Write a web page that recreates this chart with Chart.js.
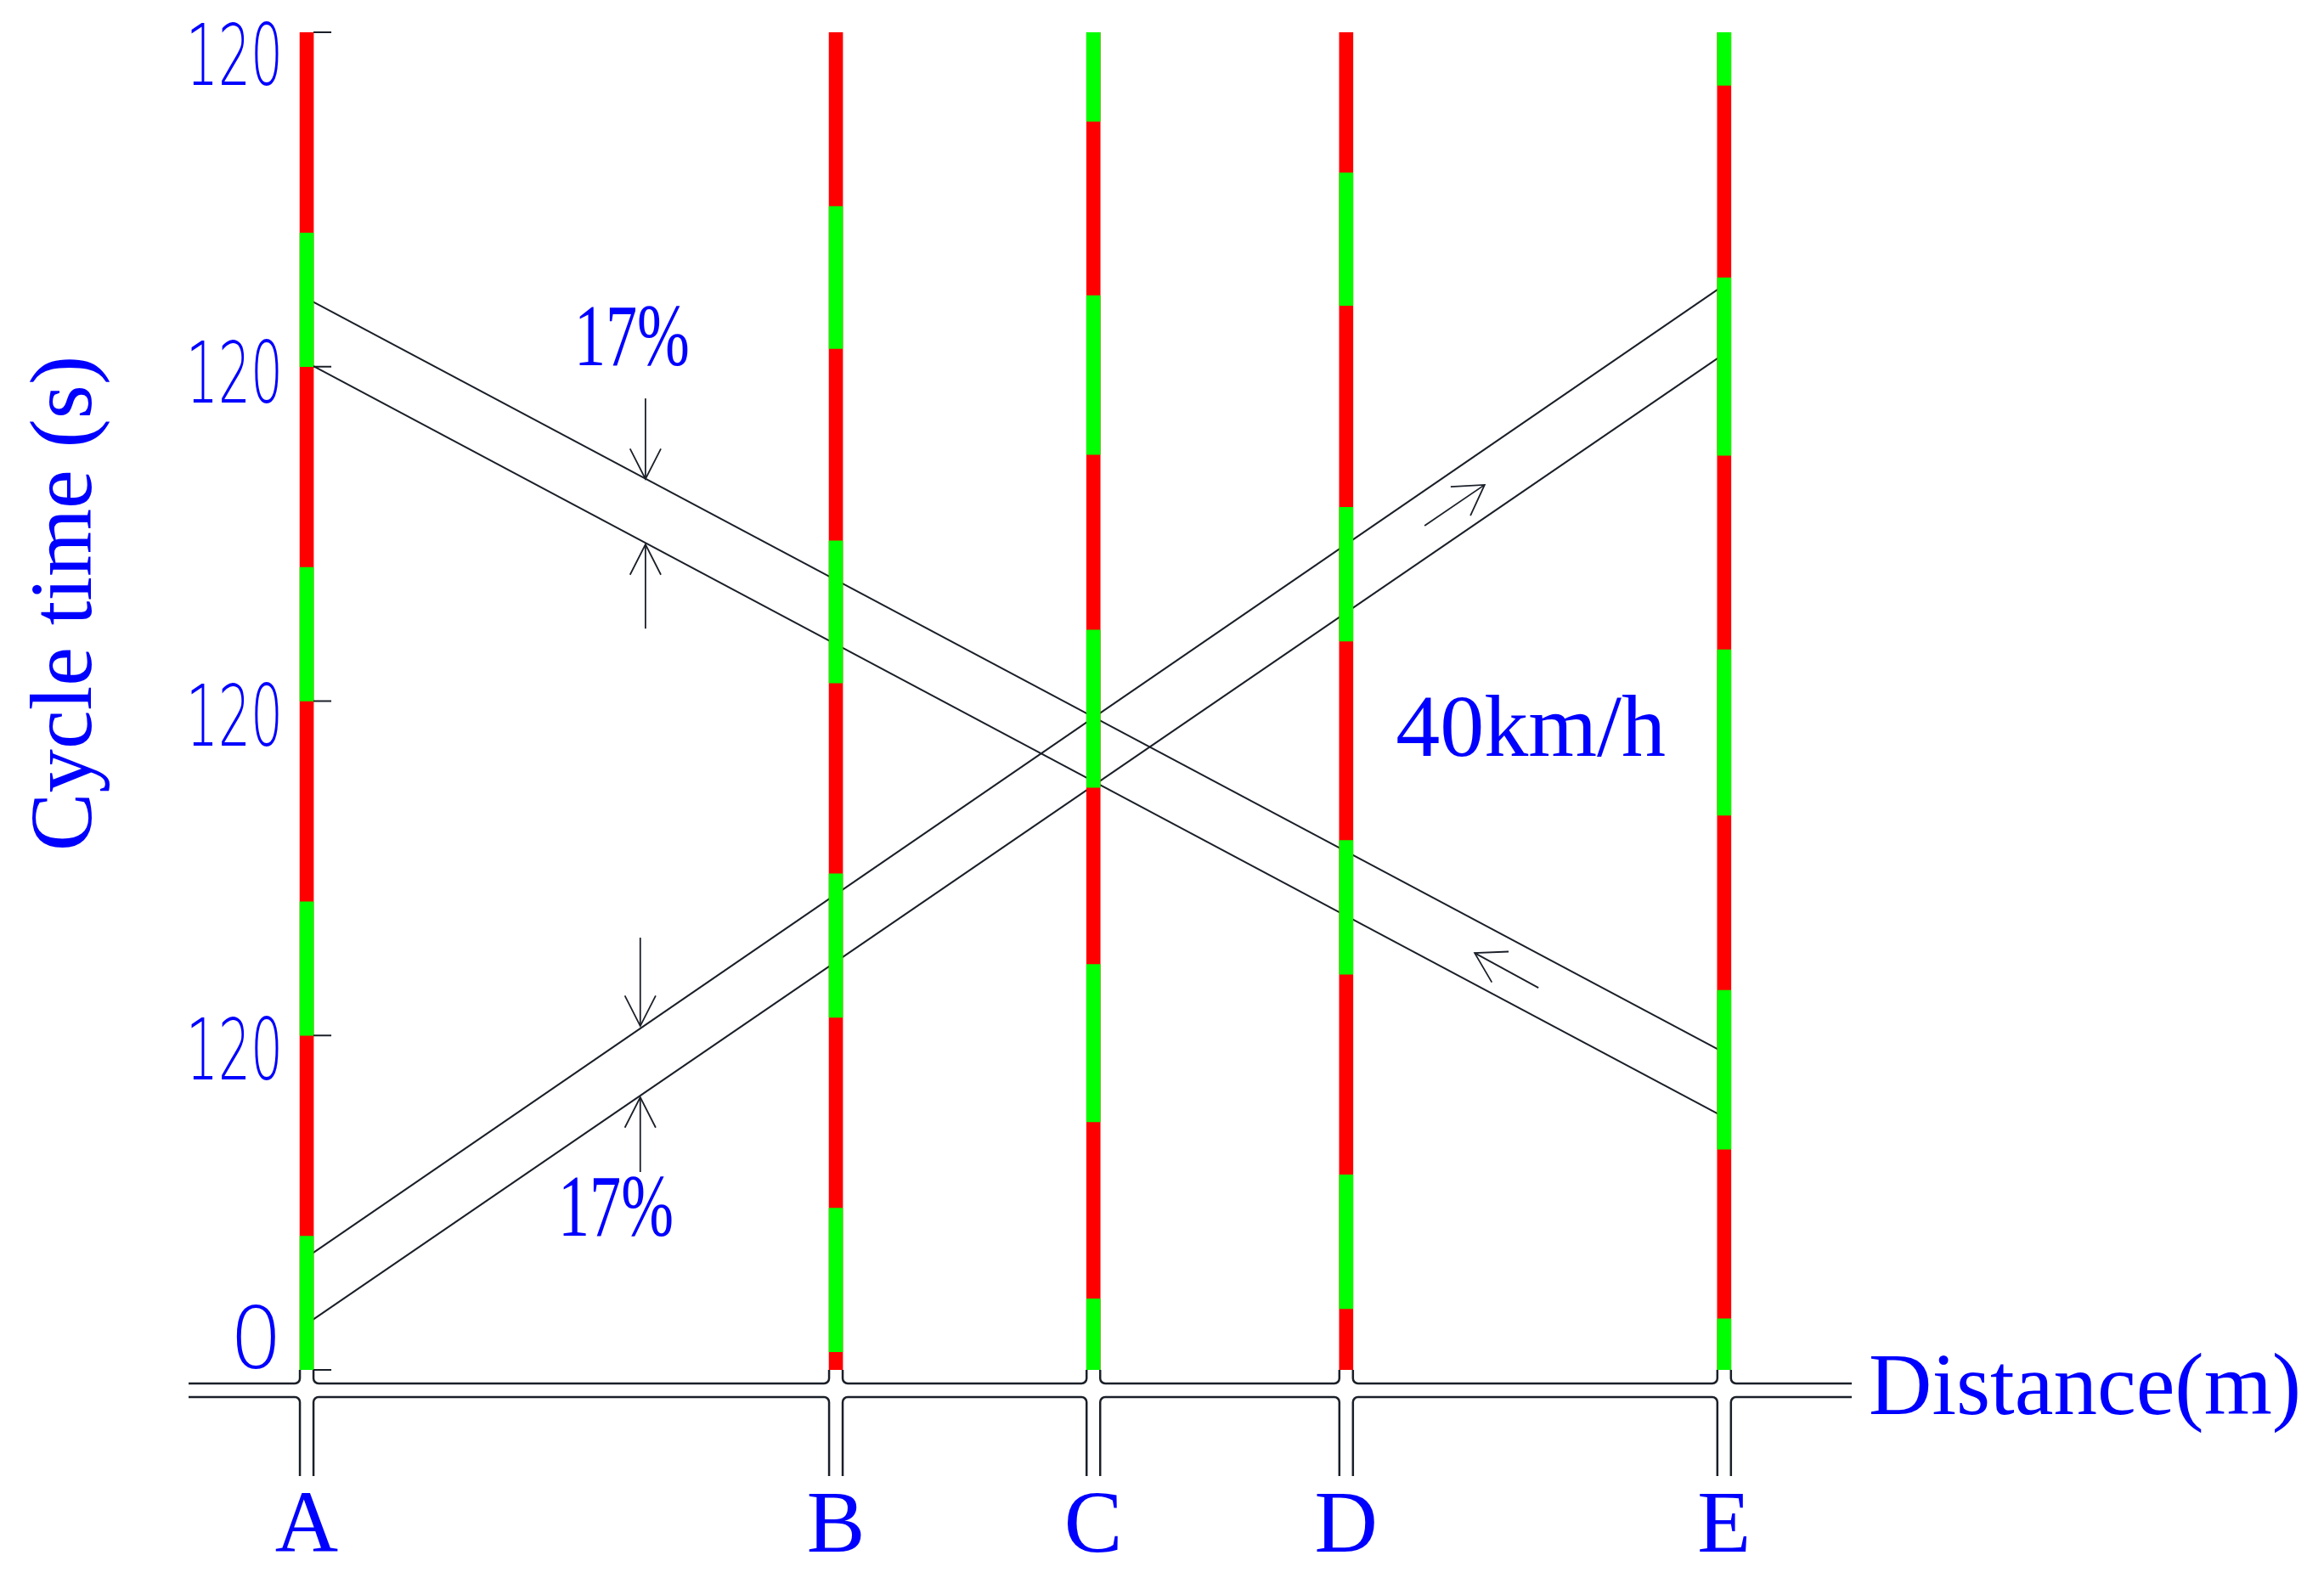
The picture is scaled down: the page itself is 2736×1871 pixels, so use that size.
<!DOCTYPE html>
<html>
<head>
<meta charset="utf-8">
<title>Time-space diagram</title>
<script src="https://cdn.jsdelivr.net/npm/chart.js@4.4.1/dist/chart.umd.min.js"></script>
<style>
  html, body { margin: 0; padding: 0; background: #fff; }
  canvas { display: block; }
</style>
</head>
<body>
<canvas id="chart" width="2736" height="1871"></canvas>
<script>
// intersections along the road (m)
const intersections = ["A", "B", "C", "D", "E"];
const positions = [0, 1120, 1665, 2200, 3000];

// time axis (s), 4 cycles of 120 s
const cycleEnd = 480;
const yTicks = [0, 120, 240, 360, 480];
const yTickLabels = ["0", "120", "120", "120", "120"];

// green phases [start, end] at each intersection, the rest is red
const greenA = [[0, 48], [120, 168], [240, 288], [360, 408]];
const greenB = [[6.5, 58], [126.5, 178], [246.5, 297.5], [366.5, 417.5]];
const greenC = [[0, 25.5], [89, 145.5], [209, 265.5], [328.5, 385.5], [448, 480]];
const greenD = [[22, 70], [142, 190], [261.5, 309.5], [382, 429.5]];
const greenE = [[0, 18.3], [79.2, 136.2], [199, 258.4], [328.2, 391.9], [461, 480]];
const greens = [greenA, greenB, greenC, greenD, greenE];

// green wave bands: [distance, time] at A and E
const downBandTop = [[0, 384.5], [3000, 113.9]];
const downBandBottom = [[0, 361.5], [3000, 90.7]];
const upBandTop = [[0, 40.4], [3000, 389.3]];
const upBandBottom = [[0, 16.5], [3000, 364.6]];

// bandwidth dimension arrows (distance, tail time, tip time)
const widthArrows = [
    [717, 348.6, 319.7],
    [717, 266, 296.2],
    [706, 155.1, 123.4],
    [706, 71, 97.8]
];
// direction arrows [tail, tip]
const dirArrows = [
    [[2366, 302.9], [2493, 317.6]],
    [[2607, 137.1], [2472, 149.6]]
];

const INK = '#1a1f28';
const BLUE = '#0000ff';
const BAR_W = 16;

function toXY(points) {
    return points.map(p => ({ x: p[0], y: p[1] }));
}

function lineSet(points) {
    return {
        type: 'line',
        data: toXY(points),
        borderColor: INK,
        borderWidth: 2,
        pointRadius: 0,
        tension: 0,
        fill: false,
        order: 2
    };
}

function arrowHead(ctx, tx, ty, fx, fy, len, ang) {
    const a = Math.atan2(fy - ty, fx - tx);
    ctx.beginPath();
    ctx.moveTo(tx + len * Math.cos(a + ang), ty + len * Math.sin(a + ang));
    ctx.lineTo(tx, ty);
    ctx.lineTo(tx + len * Math.cos(a - ang), ty + len * Math.sin(a - ang));
    ctx.stroke();
}

const decor = {
    id: 'decor',
    afterDraw(chart) {
        const ctx = chart.ctx;
        const xs = chart.scales.x, ys = chart.scales.y;
        const area = chart.chartArea;
        const y0 = ys.getPixelForValue(0);
        const half = BAR_W / 2;
        const r = 6;
        ctx.save();
        ctx.strokeStyle = INK;
        ctx.lineCap = 'butt';

        // road with cross streets
        const upper = y0 + 16, lower = y0 + 32, down = y0 + 125;
        const cx = positions.map(p => xs.getPixelForValue(p));
        const edges = [[null, area.left]];
        cx.forEach(c => edges.push([c - half, c + half]));
        edges.push([area.right, null]);
        ctx.lineWidth = 2.5;
        for (let i = 0; i < edges.length - 1; i++) {
            const xr = edges[i][1];
            const xl = edges[i + 1][0];
            const startCap = edges[i][0] === null;
            const endCap = edges[i + 1][1] === null;
            // upper line
            ctx.beginPath();
            if (startCap) {
                ctx.moveTo(xr, upper);
            } else {
                ctx.moveTo(xr, y0);
                ctx.lineTo(xr, upper - r);
                ctx.arcTo(xr, upper, xr + r, upper, r);
            }
            if (endCap) {
                ctx.lineTo(xl, upper);
            } else {
                ctx.lineTo(xl - r, upper);
                ctx.arcTo(xl, upper, xl, upper - r, r);
                ctx.lineTo(xl, y0);
            }
            ctx.stroke();
            // lower line
            ctx.beginPath();
            if (startCap) {
                ctx.moveTo(xr, lower);
            } else {
                ctx.moveTo(xr, down);
                ctx.lineTo(xr, lower + r);
                ctx.arcTo(xr, lower, xr + r, lower, r);
            }
            if (endCap) {
                ctx.lineTo(xl, lower);
            } else {
                ctx.lineTo(xl - r, lower);
                ctx.arcTo(xl, lower, xl, lower + r, r);
                ctx.lineTo(xl, down);
            }
            ctx.stroke();
        }

        // y ticks next to the first signal
        const tickX = cx[0] + half;
        ctx.lineWidth = 2;
        yTicks.forEach(v => {
            const y = ys.getPixelForValue(v);
            ctx.beginPath();
            ctx.moveTo(tickX, y);
            ctx.lineTo(tickX + 21, y);
            ctx.stroke();
        });

        // bandwidth arrows
        ctx.lineWidth = 1.8;
        widthArrows.forEach(a => {
            const x = xs.getPixelForValue(a[0]);
            const yt = ys.getPixelForValue(a[1]);
            const yh = ys.getPixelForValue(a[2]);
            ctx.beginPath();
            ctx.moveTo(x, yt);
            ctx.lineTo(x, yh);
            ctx.stroke();
            arrowHead(ctx, x, yh, x, yt, 40, 27 * Math.PI / 180);
        });
        // direction arrows
        dirArrows.forEach(a => {
            const fx = xs.getPixelForValue(a[0][0]), fy = ys.getPixelForValue(a[0][1]);
            const tx = xs.getPixelForValue(a[1][0]), ty = ys.getPixelForValue(a[1][1]);
            ctx.beginPath();
            ctx.moveTo(fx, fy);
            ctx.lineTo(tx, ty);
            ctx.stroke();
            arrowHead(ctx, tx, ty, fx, fy, 40, 31 * Math.PI / 180);
        });

        // texts
        ctx.fillStyle = BLUE;

        // y tick labels
        const labelDy = [-28, 26, 27, 17, 36];
        ctx.font = '200 99px "DejaVu Sans", Roboto, sans-serif';
        ctx.textAlign = 'right';
        ctx.textBaseline = 'middle';
        yTicks.forEach((v, i) => {
            ctx.fillText(yTickLabels[i], 333, ys.getPixelForValue(v) + labelDy[i], 114);
        });

        // intersection names
        ctx.font = '103px "Liberation Serif", serif';
        ctx.textAlign = 'center';
        ctx.textBaseline = 'alphabetic';
        intersections.forEach((name, i) => {
            ctx.fillText(name, cx[i], y0 + 214);
        });

        // axis titles
        ctx.textAlign = 'left';
        ctx.fillText('Distance(m)', area.right + 20, y0 + 52, 517);
        ctx.save();
        ctx.translate(107, (area.top + area.bottom) / 2 - 115);
        ctx.rotate(-Math.PI / 2);
        ctx.textAlign = 'center';
        ctx.fillText('Cycle time (s)', 0, 0, 584);
        ctx.restore();

        // annotations
        ctx.font = '104px "Liberation Serif", serif';
        ctx.textAlign = 'left';
        ctx.fillText('17%', xs.getPixelForValue(566), ys.getPixelForValue(360.5), 136);
        ctx.fillText('17%', xs.getPixelForValue(532), ys.getPixelForValue(48.2), 136);
        ctx.fillText('40km/h', xs.getPixelForValue(2305), ys.getPixelForValue(220.3), 336);

        ctx.restore();
    }
};

const ctx = document.getElementById('chart').getContext('2d');
new Chart(ctx, {
    type: 'bar',
    data: {
        datasets: [
            {
                type: 'bar',
                label: 'Green',
                data: greens.flatMap((g, i) => g.map(s => ({ x: positions[i], y: s }))),
                backgroundColor: '#00ff00',
                borderWidth: 0,
                barThickness: BAR_W,
                grouped: false,
                order: 0
            },
            {
                type: 'bar',
                label: 'Red',
                data: positions.map(p => ({ x: p, y: [0, cycleEnd] })),
                backgroundColor: '#ff0000',
                borderWidth: 0,
                barThickness: BAR_W,
                grouped: false,
                order: 1
            },
            lineSet(downBandTop),
            lineSet(downBandBottom),
            lineSet(upBandTop),
            lineSet(upBandBottom)
        ]
    },
    options: {
        responsive: false,
        animation: false,
        devicePixelRatio: 1,
        layout: { padding: { left: 222, right: 556, top: 38, bottom: 258 } },
        plugins: {
            legend: { display: false },
            tooltip: { enabled: false }
        },
        scales: {
            x: { type: 'linear', min: -250, max: 3270, offset: false, display: false },
            y: { type: 'linear', min: 0, max: 480, display: false }
        }
    },
    plugins: [decor]
});
</script>
</body>
</html>
